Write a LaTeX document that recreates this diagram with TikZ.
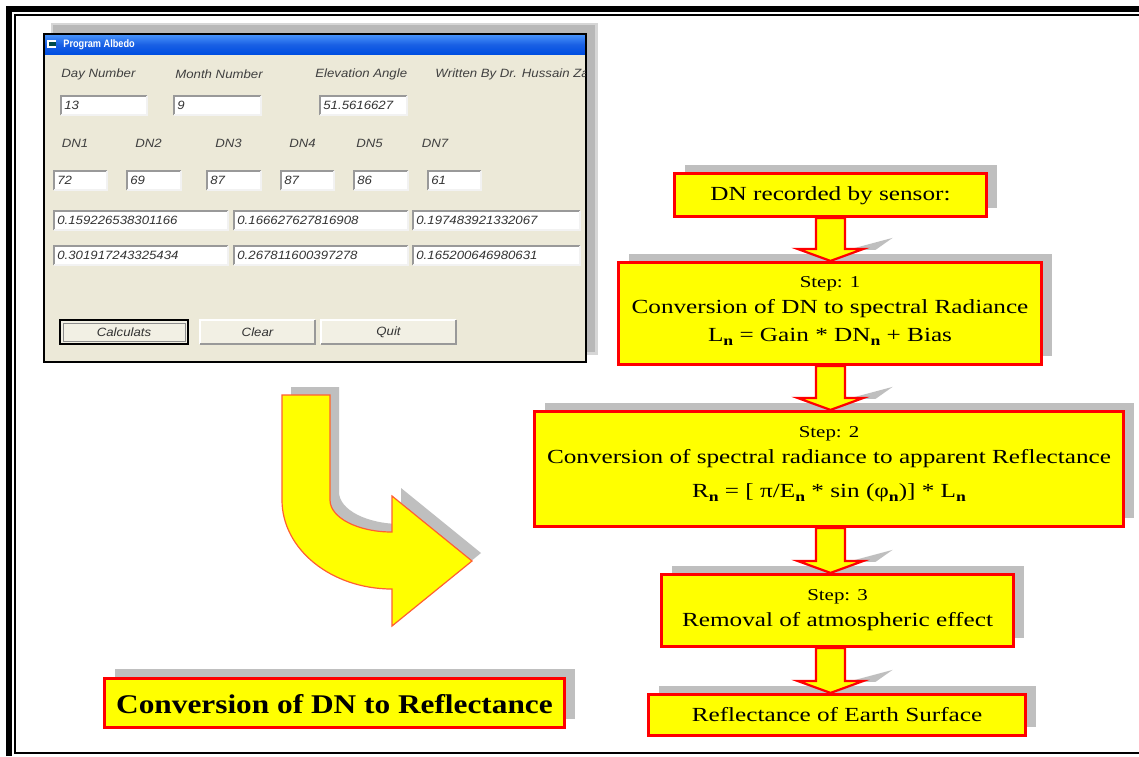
\documentclass[tikz,border=0pt]{standalone}
\usepackage{fontspec}
\setmainfont{Liberation Serif}[FakeStretch=1.26]
\setsansfont{Liberation Sans}[FakeStretch=1.1]
\newfontfamily\titlefont{Liberation Serif}[FakeStretch=1.16]
\newfontfamily\wintitlefont{Liberation Sans}[FakeStretch=0.85]
\usetikzlibrary{shadows,calc}
\definecolor{fy}{RGB}{255,255,0}
\definecolor{fr}{RGB}{255,0,0}
\definecolor{shd}{RGB}{191,191,191}
\definecolor{winbg}{RGB}{236,233,216}
\definecolor{wshlight}{RGB}{214,214,214}
\definecolor{wshdark}{RGB}{184,184,184}
\definecolor{ttop}{RGB}{70,145,250}
\definecolor{tbot}{RGB}{0,78,225}
\definecolor{curveline}{RGB}{255,95,50}
\newcommand\sbn{\raisebox{-0.5ex}{\fontsize{7}{8}\selectfont\bfseries n}}
\newcommand\wbox[6]{%
  \fill[white] (#2,#3) rectangle (#4,#5);
  \draw[tbdark] (#2,#5) -- (#2,#3) -- (#4,#3);
  \draw[tblight] (#2,#5) -- (#4,#5) -- (#4,#3);
  \node[wtext, anchor=west] (#1) at ({#2+3},{(#3+#5)/2}) {#6};
}
\newcommand\flowarrow[2]{%
  \fill[shd] let \p0=(ax), \p2=(#2.north) in
    (\x0+8.5pt,\y2+5.5pt) -- (\x0+31pt,\y2+11.5pt) -- (\x0+22.5pt,\y2+5.5pt) -- cycle;
  \draw[farrow] let \p0=(ax), \p1=(#1.south), \p2=(#2.north) in
    (\x0-7.25pt,\y1) -- (\x0-7.25pt,\y2+6pt) -- (\x0-16.5pt,\y2+6pt) -- (\x0,\y2)
    -- (\x0+16.5pt,\y2+6pt) -- (\x0+7.25pt,\y2+6pt) -- (\x0+7.25pt,\y1) -- cycle;
}
\tikzset{
  flowbox/.style={draw=fr, line width=1.6pt, fill=fy, inner sep=0,
    drop shadow={shadow xshift=5pt, shadow yshift=4.5pt, opacity=1, fill=shd}},
  ftext/.style={font=\fontsize{10}{12}\selectfont, inner sep=0, anchor=base},
  stext/.style={font=\fontsize{8.3}{10}\selectfont, inner sep=0, anchor=base},
  farrow/.style={draw=fr, line width=1.1pt, fill=fy, line join=miter},
  wtext/.style={font=\sffamily\itshape\fontsize{6}{7}\selectfont, text=black!80, inner sep=0},
  wlabel/.style={font=\sffamily\itshape\fontsize{6}{7}\selectfont, text=black!75, inner sep=0, anchor=west},
  tbdark/.style={draw=black!40, line width=0.6pt},
  tblight/.style={draw=black!5, line width=0.6pt},
  btn/.style={fill=winbg!70!white},
}
\begin{document}
\begin{tikzpicture}[x=0.5pt,y=-0.5pt]
\useasboundingbox (0,0) rectangle (1139,756);
\fill[white] (0,0) rectangle (1139,756);
% frame
\draw[line width=3pt] (9,756) -- (9,9) -- (1139,9);
\draw[line width=1pt] (1139,15) -- (15,15) -- (15,753) -- (1139,753);

% ---------- program window ----------
\fill[wshlight] (51,23) rectangle (598,355);
\fill[wshdark] (53,25) rectangle (595,352);
\fill[winbg] (44,34) rectangle (586,362);
\shade[top color=ttop, bottom color=tbot, middle color=tbot!90!white] (45,35) rectangle (585,54);
\draw[line width=1pt] (44,34) rectangle (586,362);
\fill[white] (47,40) rectangle (56,48);
\fill[teal!60!black] (49,42) rectangle (56,46);
\node[anchor=west, text=white, font=\wintitlefont\bfseries\fontsize{5.4}{6}\selectfont, inner sep=0] (wtitle) at (63,44.5) {Program Albedo};

\node[wlabel] (lday) at (61,74) {Day Number};
\node[wlabel] (lmon) at (175,74) {Month Number};
\node[wlabel] (lele) at (315,74) {Elevation Angle};
\begin{scope}
  \clip (44,34) rectangle (585,362);
  \node[wlabel] (lwri) at (435,74) {Written By Dr. Hussain Zay};
\end{scope}

\wbox{vday}{61}{96}{147}{115}{13}
\wbox{vmon}{174}{96}{261}{115}{9}
\wbox{vele}{320}{96}{407}{115}{51.5616627}

\node[wlabel] (dn1) at (61.5,143) {DN1};
\node[wlabel] (dn2) at (135,143) {DN2};
\node[wlabel] (dn3) at (215,143) {DN3};
\node[wlabel] (dn4) at (289,143) {DN4};
\node[wlabel] (dn5) at (356,143) {DN5};
\node[wlabel] (dn7) at (421.5,143) {DN7};

\wbox{v1}{54}{171}{107}{190}{72}
\wbox{v2}{127}{171}{181}{190}{69}
\wbox{v3}{207}{171}{261}{190}{87}
\wbox{v4}{281}{171}{334}{190}{87}
\wbox{v5}{354}{171}{408}{190}{86}
\wbox{v7}{428}{171}{481}{190}{61}

\wbox{r1}{54}{211}{228}{230}{0.159226538301166}
\wbox{r2}{234}{211}{408}{230}{0.166627627816908}
\wbox{r3}{413}{211}{580}{230}{0.197483921332067}
\wbox{r4}{54}{246}{228}{265}{0.301917243325434}
\wbox{r5}{234}{246}{408}{265}{0.267811600397278}
\wbox{r6}{413}{246}{580}{265}{0.165200646980631}

% buttons
\fill[btn] (60,320) rectangle (188,344);
\draw[line width=0.6pt] (60,320) rectangle (188,344);
\draw[black!45, line width=0.5pt] (63,323) rectangle (185,341);
\node[wtext] (bcalc) at (124,332) {Calculats};
\fill[btn] (200,320) rectangle (315,344);
\draw[white, line width=0.6pt] (200,344) -- (200,320) -- (315,320);
\draw[black!40, line width=0.6pt] (200,344) -- (315,344) -- (315,320);
\node[wtext] (bclear) at (257.5,332) {Clear};
\fill[btn] (321,320) rectangle (456,344);
\draw[white, line width=0.6pt] (321,344) -- (321,320) -- (456,320);
\draw[black!40, line width=0.6pt] (321,344) -- (456,344) -- (456,320);
\node[wtext] (bquit) at (388.5,332) {Quit};

% ---------- curved arrow ----------
\begin{scope}[shift={(9,-8)}]
\fill[shd] (282,395) -- (282,500) .. controls (282,549.2) and (331.2,589) .. (392,589)
  -- (392,626) -- (472,561) -- (392,496) -- (392,532)
  .. controls (357.8,532) and (330,517.7) .. (330,500) -- (330,395) -- cycle;
\end{scope}
\draw[fill=fy, draw=curveline, line width=0.6pt] (282,395) -- (282,500) .. controls (282,549.2) and (331.2,589) .. (392,589)
  -- (392,626) -- (472,561) -- (392,496) -- (392,532)
  .. controls (357.8,532) and (330,517.7) .. (330,500) -- (330,395) -- cycle;

% ---------- title box ----------
\node[flowbox, minimum width=230pt, minimum height=24.5pt,
  drop shadow={shadow xshift=5pt, shadow yshift=5pt, opacity=1, fill=shd}] (title) at (334.5,703) {};
\node[anchor=base, inner sep=0, font=\titlefont\bfseries\fontsize{13.5}{16}\selectfont] (titletext) at (334.5,713) {Conversion of DN to Reflectance};

% ---------- flowchart ----------
\coordinate (ax) at (830.5,0);
\node[flowbox, minimum width=156pt, minimum height=21.5pt] (b1) at (830.5,195) {};
\node[flowbox, minimum width=211.5pt, minimum height=51pt] (b2) at (830,313.5) {};
\node[flowbox, minimum width=294.5pt, minimum height=57.5pt] (b3) at (829,469) {};
\node[flowbox, minimum width=176pt, minimum height=36pt] (b4) at (837.5,610.5) {};
\node[flowbox, minimum width=188.5pt, minimum height=20.5pt] (b5) at (837,715) {};

\node[ftext] (t1) at (830.5,200) {DN recorded by sensor:};
\node[stext] (t2a) at (830,287) {Step: 1};
\node[ftext] (t2b) at (830,313) {Conversion of DN to spectral Radiance};
\node[ftext] (t2c) at (830,341) {L\sbn{} = Gain * DN\sbn{} + Bias};
\node[stext] (t3a) at (829,437) {Step: 2};
\node[ftext] (t3b) at (829,463) {Conversion of spectral radiance to apparent Reflectance};
\node[ftext] (t3c) at (829,497) {R\sbn{} = [ π/E\sbn{} * sin (φ\sbn)] * L\sbn};
\node[stext] (t4a) at (837.5,600) {Step: 3};
\node[ftext] (t4b) at (837.5,626) {Removal of atmospheric effect};
\node[ftext] (t5) at (837,721) {Reflectance of Earth Surface};

\flowarrow{b1}{b2}
\flowarrow{b2}{b3}
\flowarrow{b3}{b4}
\flowarrow{b4}{b5}
\end{tikzpicture}
\end{document}
